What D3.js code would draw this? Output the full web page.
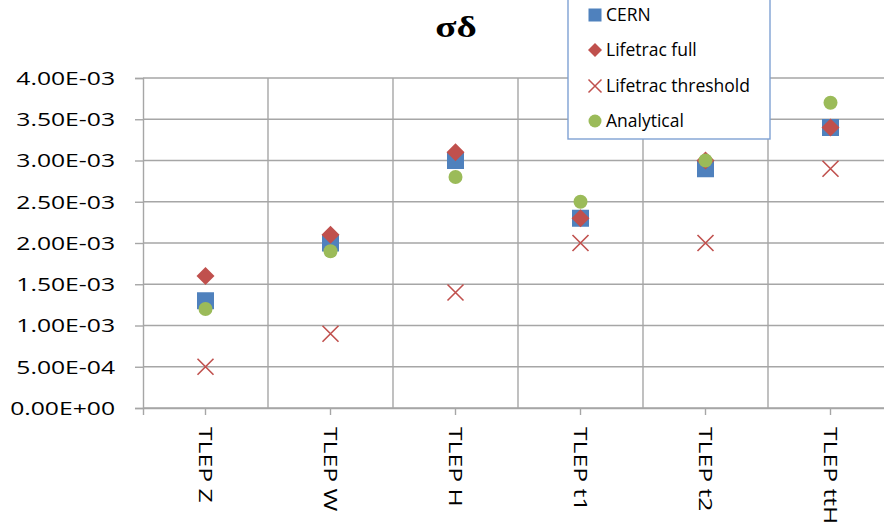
<!DOCTYPE html>
<html>
<head>
<meta charset="utf-8">
<script src="https://cdn.jsdelivr.net/npm/d3@7"></script>
<style>
  html, body { margin: 0; padding: 0; background: #fff; }
  svg { display: block; }
</style>
</head>
<body>
<svg id="chart" width="884" height="527"></svg>
<script>
// ---- data ----
const categories = ["TLEP Z", "TLEP W", "TLEP H", "TLEP t1", "TLEP t2", "TLEP ttH"];
const cern       = [1.3e-3, 2.0e-3, 3.0e-3, 2.3e-3, 2.9e-3, 3.4e-3];
const lifeFull   = [1.6e-3, 2.1e-3, 3.1e-3, 2.3e-3, 3.0e-3, 3.4e-3];
const lifeThresh = [0.5e-3, 0.9e-3, 1.4e-3, 2.0e-3, 2.0e-3, 2.9e-3];
const analytical = [1.2e-3, 1.9e-3, 2.8e-3, 2.5e-3, 3.0e-3, 3.7e-3];
const yTicks = [0, 0.5e-3, 1.0e-3, 1.5e-3, 2.0e-3, 2.5e-3, 3.0e-3, 3.5e-3, 4.0e-3];
const seriesNames = ["CERN", "Lifetrac full", "Lifetrac threshold", "Analytical"];
const titleText = "σδ";

(function () {
// ---- layout ----
const svg = d3.select("#chart");
const pl = 143, pr = 893, pt = 78, pb = 408;
const gridColor = "#a6a6a6";
const blue = "#4F81BD", red = "#C0504D", green = "#9BBB59";

const y = d3.scaleLinear().domain([0, 4e-3]).range([pb, pt]);
const x = d3.scaleBand().domain(categories).range([pl, pr]).padding(0);

const fmt = v => v.toExponential(2).toUpperCase().replace(/E([+-])(\d)$/, "E$10$2");

// horizontal gridlines
svg.append("g").selectAll("line").data(yTicks).join("line")
  .attr("x1", pl).attr("x2", pr)
  .attr("y1", d => y(d)).attr("y2", d => y(d))
  .attr("stroke", gridColor).attr("stroke-width", 1.4);

// vertical gridlines (category boundaries)
svg.append("g").selectAll("line").data(categories).join("line")
  .attr("x1", d => x(d) + x.bandwidth())
  .attr("x2", d => x(d) + x.bandwidth())
  .attr("y1", pt).attr("y2", pb)
  .attr("stroke", gridColor).attr("stroke-width", 1.4);

// y axis
const yAxis = svg.append("g").attr("transform", `translate(${pl},0)`)
  .call(d3.axisLeft(y).tickValues(yTicks).tickSize(8).tickFormat(""));
yAxis.select(".domain").attr("stroke", gridColor).attr("stroke-width", 1.4);
yAxis.selectAll(".tick line").attr("stroke", gridColor).attr("stroke-width", 1.4);

// y labels (wide glyphs)
svg.append("g").selectAll("text").data(yTicks).join("text")
  .attr("transform", d => `translate(115,${y(d)}) scale(1.3,1)`)
  .attr("text-anchor", "end")
  .attr("dy", "0.36em")
  .attr("font-family", "'Open Sans', sans-serif")
  .attr("font-size", 19)
  .attr("fill", "#000")
  .text(fmt);

// x axis
const xAxis = svg.append("g").attr("transform", `translate(0,${pb})`)
  .call(d3.axisBottom(x).tickSize(7).tickFormat(""));
xAxis.select(".domain").attr("stroke", gridColor).attr("stroke-width", 1.4);
xAxis.selectAll(".tick line").attr("stroke", gridColor).attr("stroke-width", 1.4);

// x labels, rotated
svg.append("g").selectAll("text").data(categories).join("text")
  .attr("transform", d => `translate(${x(d) + x.bandwidth() / 2},427) rotate(90) scale(1.3,1)`)
  .attr("text-anchor", "start")
  .attr("dy", "0.36em")
  .attr("font-family", "'Open Sans', sans-serif")
  .attr("font-size", 19)
  .attr("fill", "#000")
  .text(d => d);

// ---- markers ----
const cx = i => x(categories[i]) + x.bandwidth() / 2;
const sq = 17, dia = 18, cr = 7, xs = 8;

svg.append("g").selectAll("rect").data(cern).join("rect")
  .attr("x", (d, i) => cx(i) - sq / 2).attr("y", d => y(d) - sq / 2)
  .attr("width", sq).attr("height", sq).attr("fill", blue);

svg.append("g").selectAll("path").data(lifeFull).join("path")
  .attr("d", (d, i) => {
    const X = cx(i), Y = y(d), h = dia / 2;
    return `M${X},${Y - h}L${X + h},${Y}L${X},${Y + h}L${X - h},${Y}Z`;
  }).attr("fill", red);

svg.append("g").selectAll("path").data(lifeThresh).join("path")
  .attr("d", (d, i) => {
    const X = cx(i), Y = y(d);
    return `M${X - xs},${Y - xs}L${X + xs},${Y + xs}M${X - xs},${Y + xs}L${X + xs},${Y - xs}`;
  }).attr("stroke", red).attr("stroke-width", 1.6).attr("fill", "none");

svg.append("g").selectAll("circle").data(analytical).join("circle")
  .attr("cx", (d, i) => cx(i)).attr("cy", d => y(d)).attr("r", cr).attr("fill", green);

// ---- title ----
svg.append("text")
  .attr("transform", "translate(456,37) scale(1.3,1)")
  .attr("text-anchor", "middle")
  .attr("font-family", "'Liberation Serif', 'DejaVu Serif', serif")
  .attr("font-weight", "bold")
  .attr("font-size", 30)
  .attr("fill", "#000")
  .text(titleText);

// ---- legend ----
const lg = svg.append("g");
lg.append("rect").attr("x", 568).attr("y", -5).attr("width", 202).attr("height", 144)
  .attr("fill", "#fff").attr("stroke", "#7FA1D3").attr("stroke-width", 1.4);
const legY = [15, 50, 86, 121];
const mx = 595;
seriesNames.forEach((name, i) => {
  const Y = legY[i];
  if (i === 0) {
    lg.append("rect").attr("x", mx - 6.5).attr("y", Y - 6.5).attr("width", 13).attr("height", 13).attr("fill", blue);
  } else if (i === 1) {
    lg.append("path").attr("d", `M${mx},${Y - 7}L${mx + 7},${Y}L${mx},${Y + 7}L${mx - 7},${Y}Z`).attr("fill", red);
  } else if (i === 2) {
    lg.append("path").attr("d", `M${mx - 6.5},${Y - 6.5}L${mx + 6.5},${Y + 6.5}M${mx - 6.5},${Y + 6.5}L${mx + 6.5},${Y - 6.5}`)
      .attr("stroke", red).attr("stroke-width", 1.5);
  } else {
    lg.append("circle").attr("cx", mx).attr("cy", Y).attr("r", 6.5).attr("fill", green);
  }
  lg.append("text").attr("x", 606).attr("y", Y).attr("dy", "0.36em")
    .attr("font-family", "'Open Sans', sans-serif").attr("font-size", 17.5).attr("fill", "#000")
    .text(name);
});
})();
</script>
</body>
</html>
